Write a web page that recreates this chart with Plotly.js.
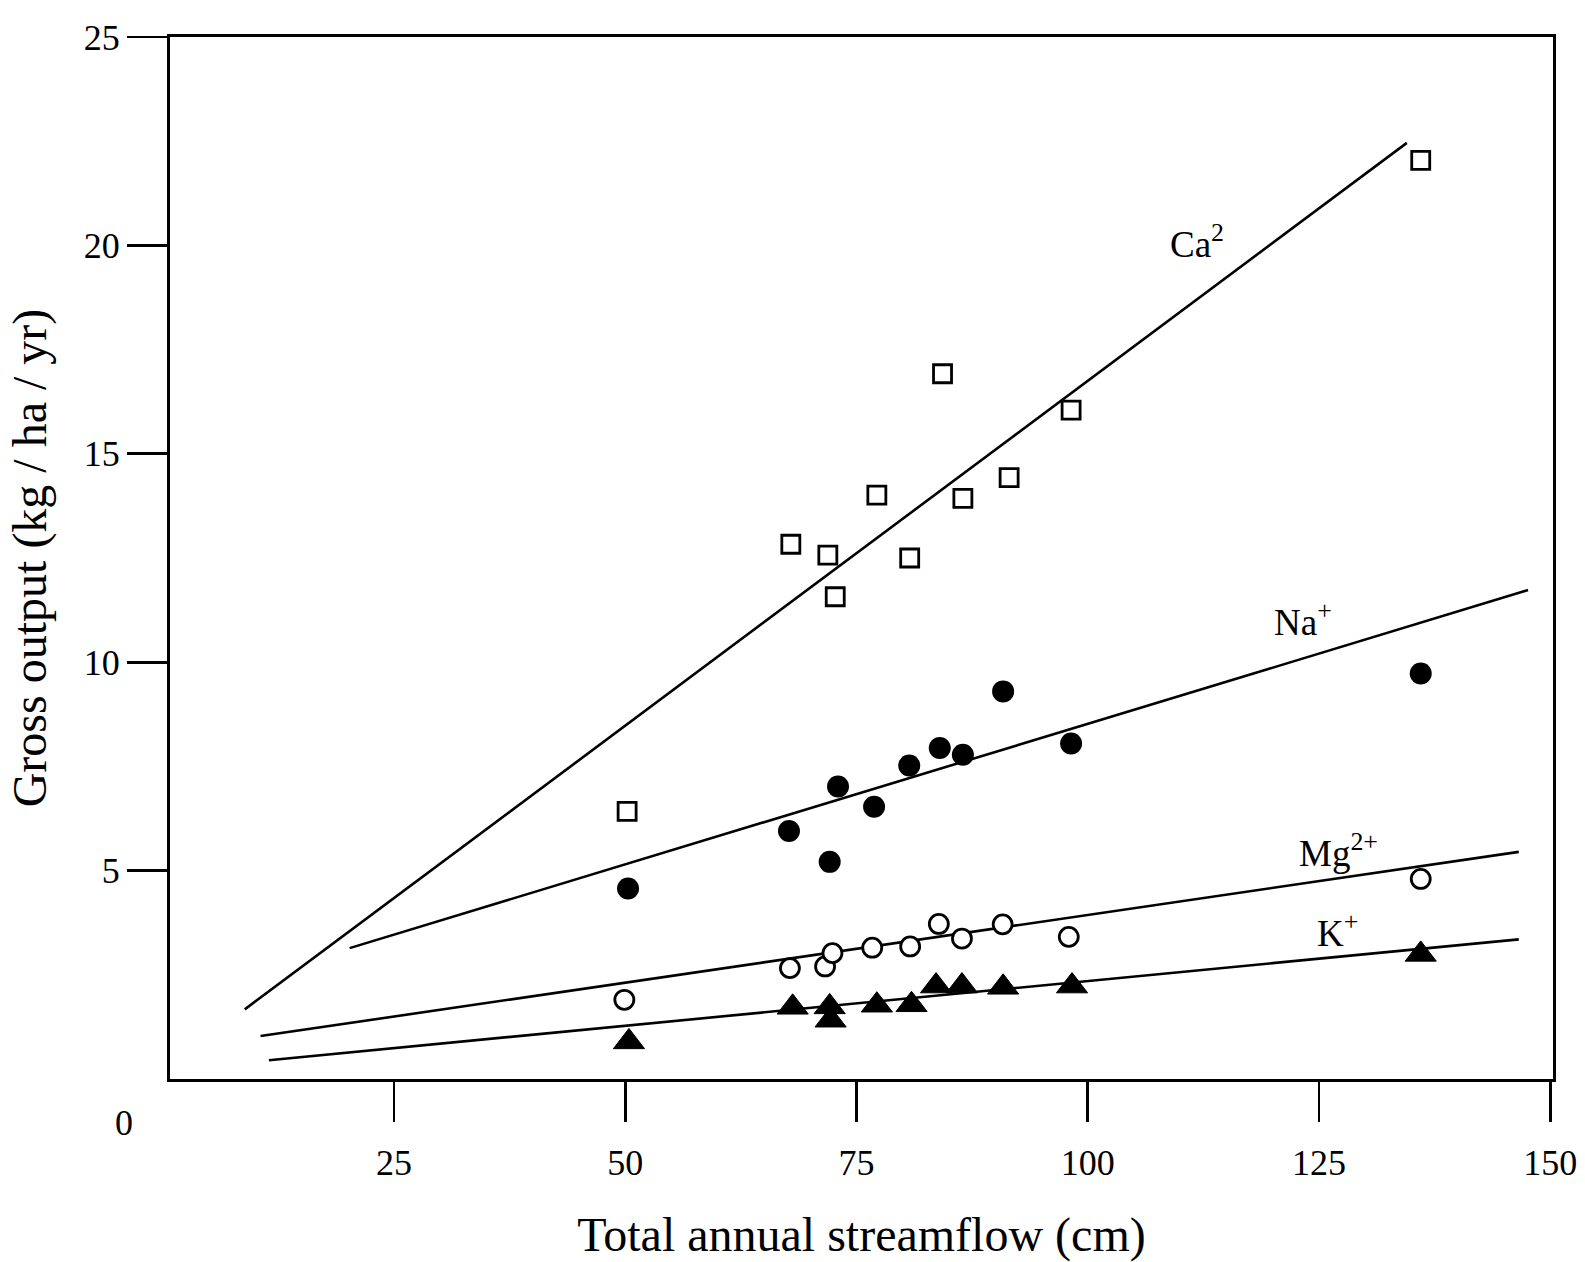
<!DOCTYPE html>
<html>
<head>
<meta charset="utf-8">
<script src="https://cdn.plot.ly/plotly-3.0.1.min.js"></script>
<style>html,body{margin:0;padding:0;background:#fff;}</style>
</head>
<body>
<div id="chart" style="width:1585px;height:1262px;"></div>
<script>
// Observed gross output by year (x = total annual streamflow, cm; y = kg/ha/yr)
const caX = [50.2, 67.9, 71.9, 72.7, 77.2, 80.75, 84.3, 86.5, 91.5, 98.2, 136.0];
const caY = [6.42, 12.83, 12.57, 11.57, 14.01, 12.50, 16.92, 13.93, 14.43, 16.05, 22.04];
const naX = [50.3, 67.7, 72.1, 73.0, 76.9, 80.7, 84.0, 86.5, 90.85, 98.2, 136.0];
const naY = [4.57, 5.95, 5.21, 7.02, 6.53, 7.52, 7.94, 7.78, 9.30, 8.05, 9.73];
const mgX = [49.9, 67.8, 71.6, 72.4, 76.7, 80.8, 83.9, 86.4, 90.8, 97.95, 136.0];
const mgY = [1.90, 2.66, 2.70, 3.02, 3.15, 3.18, 3.72, 3.37, 3.71, 3.41, 4.80];
const kX = [50.4, 68.1, 72.1, 72.2, 77.2, 80.95, 83.6, 86.4, 90.85, 98.3, 136.0];
const kY = [0.89, 1.72, 1.73, 1.41, 1.77, 1.78, 2.23, 2.23, 2.20, 2.23, 2.99];

// Regression line end points
const caFitX = [8.86, 134.5];
const caFitY = [1.67, 22.46];
const naFitX = [20.2, 147.6];
const naFitY = [3.14, 11.73];
const mgFitX = [10.57, 146.6];
const mgFitY = [1.03, 5.45];
const kFitX = [11.47, 146.6];
const kFitY = [0.45, 3.35];

// Series labels and axis ticks
const ionLabels = ['Ca<sup>2</sup>', 'Na<sup>+</sup>', 'Mg<sup>2+</sup>', 'K<sup>+</sup>'];
const ionLabelX = [111.8, 123.3, 127.1, 127.0];
const ionLabelY = [20.1, 11.02, 5.48, 3.56];
const xTicks = [25, 50, 75, 100, 125, 150];
const yTicks = [5, 10, 15, 20, 25];

const FONT = 'Liberation Serif, Times New Roman, serif';
const lineStyle = {color: '#000', width: 2.6};

const traces = [
  {x: caFitX, y: caFitY, mode: 'lines', line: lineStyle, name: 'Ca fit', hoverinfo: 'skip'},
  {x: naFitX, y: naFitY, mode: 'lines', line: lineStyle, name: 'Na fit', hoverinfo: 'skip'},
  {x: mgFitX, y: mgFitY, mode: 'lines', line: lineStyle, name: 'Mg fit', hoverinfo: 'skip'},
  {x: kFitX, y: kFitY, mode: 'lines', line: lineStyle, name: 'K fit', hoverinfo: 'skip'},
  {x: caX, y: caY, mode: 'markers', name: 'Ca2+',
   marker: {symbol: 'square-open', size: 18, color: '#000', line: {color: '#000', width: 2.8}}},
  {x: naX, y: naY, mode: 'markers', name: 'Na+',
   marker: {symbol: 'circle', size: 22, color: '#000', line: {width: 0}}},
  {x: mgX, y: mgY, mode: 'markers', name: 'Mg2+',
   marker: {symbol: 'circle', size: 19, color: '#fff', line: {color: '#000', width: 2.8}}},
  {x: kX, y: kY, mode: 'markers', name: 'K+',
   marker: {symbol: 'triangle-up', size: 27, color: '#000', line: {color: '#000', width: 1}}}
];

const annotations = ionLabels.map((t, i) => ({
  x: ionLabelX[i], y: ionLabelY[i], xref: 'x', yref: 'y', text: t,
  showarrow: false, xanchor: 'center', yanchor: 'middle',
  font: {family: FONT, size: 37, color: '#000'}
}));
annotations.push({
  x: -0.0336, y: -0.042, xref: 'paper', yref: 'paper', text: '0',
  showarrow: false, xanchor: 'center', yanchor: 'middle',
  font: {family: FONT, size: 36, color: '#000'}
});

const axisCommon = {
  showgrid: false, zeroline: false, showline: true, linecolor: '#000', linewidth: 3,
  mirror: true, ticks: 'outside', ticklen: 40, tickwidth: 2.6, tickcolor: '#000',
  tickfont: {family: FONT, size: 36, color: '#000'}, fixedrange: true
};

const layout = {
  width: 1585, height: 1262,
  margin: {l: 170, r: 32, t: 37, b: 183},
  paper_bgcolor: '#fff', plot_bgcolor: '#fff',
  showlegend: false,
  font: {family: FONT, color: '#000'},
  xaxis: Object.assign({}, axisCommon, {
    range: [0.78, 150.3], tickmode: 'array', tickvals: xTicks,
    ticktext: xTicks.map(String), ticklabelstandoff: 10,
    title: {text: 'Total annual streamflow (cm)', font: {family: FONT, size: 48, color: '#000'}, standoff: 40}
  }),
  yaxis: Object.assign({}, axisCommon, {
    range: [0, 25], tickmode: 'array', tickvals: yTicks,
    ticktext: yTicks.map(String), ticklabelstandoff: 0,
    title: {text: 'Gross output (kg / ha / yr)', font: {family: FONT, size: 48, color: '#000'}, standoff: 22}
  }),
  annotations: annotations
};

Plotly.newPlot('chart', traces, layout, {displayModeBar: false, staticPlot: true});
</script>
</body>
</html>
